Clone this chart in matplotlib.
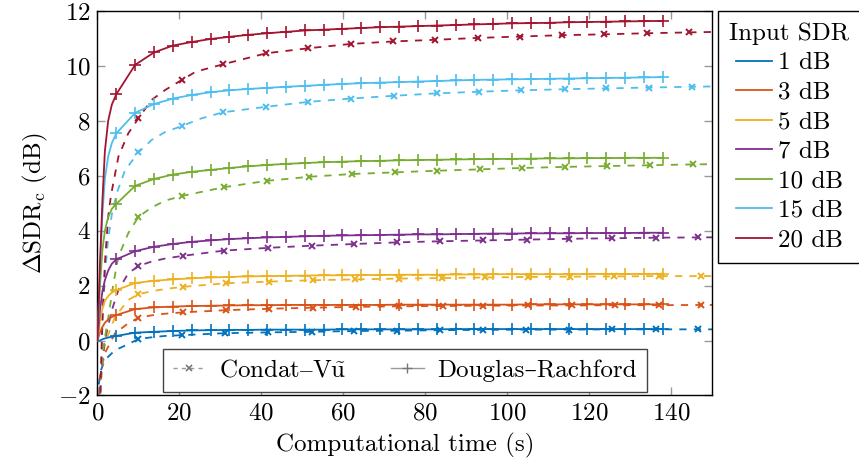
import matplotlib
matplotlib.use("Agg")
import matplotlib.pyplot as plt
from matplotlib.lines import Line2D

plt.rcParams['font.family'] = ['cmr10', 'DejaVu Serif']
plt.rcParams['mathtext.fontset'] = 'cm'
plt.rcParams['axes.formatter.use_mathtext'] = True
plt.rcParams['font.size'] = 18

labels = ['1 dB', '3 dB', '5 dB', '7 dB', '10 dB', '15 dB', '20 dB']
colors = ['#0072BD', '#D95319', '#EDB120', '#7E2F8E', '#77AC30', '#4DBEEE', '#A2142F']

# ---------------- Douglas–Rachford (solid, '+') ----------------
dr_t_early = [0.0, 0.6, 1.2, 1.8, 2.6, 3.5]
dr_t_marks = [4.6, 9.2, 13.8, 18.4, 23.0, 27.6, 32.2, 36.8, 41.4, 46.0, 50.6, 55.2, 59.8,
              64.4, 69.0, 73.6, 78.2, 82.8, 87.4, 92.0, 96.6, 101.2, 105.8, 110.4, 115.0,
              119.6, 124.2, 128.8, 133.4, 138.0]

dr_early = {
    '1 dB':  [0.0, 0.0, 0.05, 0.08, 0.11, 0.14],
    '3 dB':  [0.0, 0.3, 0.5, 0.65, 0.77, 0.86],
    '5 dB':  [0.0, 0.7, 1.15, 1.45, 1.62, 1.75],
    '7 dB':  [0.0, 1.1, 1.8, 2.2, 2.55, 2.8],
    '10 dB': [0.0, 2.0, 3.3, 4.0, 4.5, 4.8],
    '15 dB': [0.0, 2.5, 4.6, 5.9, 6.7, 7.2],
    '20 dB': [0.0, 2.8, 5.1, 6.9, 8.0, 8.6],
}
dr_marks = {
    '1 dB':  [0.17, 0.29, 0.32, 0.35, 0.37, 0.38, 0.39, 0.39, 0.40, 0.40, 0.40, 0.40, 0.41,
              0.41, 0.41, 0.41, 0.41, 0.41, 0.42, 0.42, 0.42, 0.42, 0.42, 0.42, 0.42,
              0.42, 0.42, 0.42, 0.42, 0.42],
    '3 dB':  [0.93, 1.15, 1.21, 1.24, 1.26, 1.27, 1.28, 1.29, 1.29, 1.30, 1.30, 1.30, 1.30,
              1.30, 1.30, 1.31, 1.31, 1.31, 1.31, 1.31, 1.31, 1.31, 1.32, 1.32, 1.32,
              1.32, 1.32, 1.32, 1.32, 1.32],
    '5 dB':  [1.84, 2.10, 2.18, 2.23, 2.27, 2.30, 2.32, 2.34, 2.35, 2.36, 2.37, 2.38, 2.38,
              2.39, 2.39, 2.40, 2.40, 2.40, 2.41, 2.41, 2.42, 2.42, 2.42, 2.42, 2.42,
              2.43, 2.43, 2.43, 2.43, 2.43],
    '7 dB':  [2.96, 3.26, 3.42, 3.52, 3.60, 3.65, 3.70, 3.73, 3.76, 3.78, 3.80, 3.82, 3.83,
              3.84, 3.85, 3.86, 3.87, 3.87, 3.88, 3.89, 3.90, 3.90, 3.91, 3.91, 3.91,
              3.92, 3.92, 3.92, 3.93, 3.93],
    '10 dB': [4.98, 5.64, 5.89, 6.05, 6.15, 6.22, 6.29, 6.35, 6.40, 6.44, 6.47, 6.50, 6.52,
              6.54, 6.55, 6.57, 6.58, 6.59, 6.60, 6.61, 6.62, 6.62, 6.63, 6.64, 6.64,
              6.65, 6.65, 6.66, 6.66, 6.66],
    '15 dB': [7.55, 8.30, 8.62, 8.82, 8.95, 9.05, 9.12, 9.17, 9.21, 9.25, 9.28, 9.32, 9.35,
              9.38, 9.40, 9.42, 9.44, 9.46, 9.48, 9.50, 9.51, 9.52, 9.53, 9.54, 9.55,
              9.56, 9.57, 9.58, 9.59, 9.60],
    '20 dB': [8.98, 10.05, 10.50, 10.75, 10.88, 10.99, 11.07, 11.14, 11.20, 11.25, 11.30,
              11.33, 11.36, 11.39, 11.42, 11.44, 11.46, 11.48, 11.50, 11.52, 11.54, 11.56,
              11.57, 11.58, 11.60, 11.61, 11.62, 11.63, 11.64, 11.65],
}

# ---------------- Condat–Vũ (dashed, 'x') ----------------
cv_t = {
    '1 dB':  [0.3, 0.8, 1.8, 4.3, 7.5, 10.0, 13.2, 16.5, 20.7, 31.1, 41.7, 52.3, 62.7, 73.2, 83.5, 94.1, 104.7, 115.2, 125.6, 136.3, 146.6, 157.0],
    '3 dB':  [0.3, 0.6, 1.8, 4.3, 7.5, 10.0, 13.2, 16.5, 20.9, 31.4, 41.9, 52.6, 63.1, 73.6, 84.3, 94.2, 105.2, 115.8, 126.2, 137.0, 147.4, 157.0],
    '5 dB':  [0.3, 0.6, 1.8, 4.3, 7.5, 10.0, 13.2, 16.5, 20.9, 31.4, 41.9, 52.5, 62.9, 73.5, 84.1, 94.7, 105.1, 115.4, 126.0, 137.0, 147.2, 157.0],
    '7 dB':  [0.3, 0.6, 1.8, 3.5, 5.1, 7.5, 10.0, 13.2, 16.5, 20.9, 30.9, 41.7, 52.3, 62.7, 73.2, 83.7, 94.2, 104.8, 115.2, 125.7, 136.3, 146.5, 157.0],
    '10 dB': [0.3, 0.6, 1.2, 1.8, 2.6, 3.9, 5.1, 7.5, 10.0, 13.2, 16.5, 20.6, 30.9, 41.3, 51.7, 62.1, 72.5, 82.9, 93.3, 103.6, 114.2, 124.4, 134.8, 145.3, 155.0],
    '15 dB': [0.3, 0.6, 1.2, 1.8, 2.6, 3.5, 4.7, 6.7, 10.0, 13.2, 16.5, 20.6, 25.4, 30.7, 41.2, 51.5, 61.9, 72.3, 82.9, 93.2, 103.4, 114.0, 124.1, 134.5, 145.1, 155.0],
    '20 dB': [0.3, 0.6, 1.2, 1.8, 2.6, 3.3, 5.1, 7.5, 10.0, 13.2, 16.5, 20.6, 24.0, 30.7, 41.2, 51.3, 61.8, 72.1, 82.4, 92.9, 103.2, 113.5, 123.7, 134.1, 144.3, 154.6],
}
cv_v = {
    '1 dB':  [-1.6, -1.1, -0.7, -0.35, -0.13, 0.06, 0.12, 0.17, 0.20, 0.27, 0.30, 0.32, 0.35, 0.36, 0.38, 0.39, 0.40, 0.40, 0.41, 0.41, 0.41, 0.41],
    '3 dB':  [-2.5, -1.3, -0.46, 0.27, 0.63, 0.83, 0.92, 0.98, 1.03, 1.11, 1.16, 1.20, 1.23, 1.25, 1.26, 1.27, 1.28, 1.28, 1.29, 1.29, 1.30, 1.30],
    '5 dB':  [-3.0, -1.8, -0.1, 0.87, 1.48, 1.69, 1.80, 1.88, 1.96, 2.09, 2.15, 2.20, 2.23, 2.26, 2.28, 2.30, 2.32, 2.33, 2.34, 2.35, 2.35, 2.36],
    '7 dB':  [-3.0, -1.56, 0.02, 1.11, 1.84, 2.45, 2.72, 2.88, 2.99, 3.09, 3.28, 3.38, 3.46, 3.52, 3.58, 3.62, 3.65, 3.68, 3.71, 3.73, 3.75, 3.76, 3.77],
    '10 dB': [-3.5, -2.2, -0.6, 0.1, 0.8, 2.09, 3.06, 3.91, 4.51, 4.85, 5.10, 5.27, 5.59, 5.82, 5.97, 6.07, 6.13, 6.19, 6.24, 6.29, 6.33, 6.36, 6.39, 6.42, 6.44],
    '15 dB': [-4.0, -2.5, 0.5, 2.4, 3.7, 4.6, 5.37, 6.2, 6.86, 7.31, 7.60, 7.82, 8.10, 8.32, 8.52, 8.70, 8.82, 8.92, 9.01, 9.07, 9.12, 9.16, 9.19, 9.22, 9.25, 9.27],
    '20 dB': [-4.0, -2.5, 0.8, 2.8, 4.5, 5.3, 6.7, 7.55, 8.10, 8.77, 9.13, 9.50, 9.80, 10.07, 10.47, 10.65, 10.81, 10.90, 10.96, 11.03, 11.08, 11.13, 11.16, 11.20, 11.23, 11.26],
}
cv_first_mark = {'1 dB': 5, '3 dB': 5, '5 dB': 5, '7 dB': 6, '10 dB': 8, '15 dB': 8, '20 dB': 8}
cv_skip = {'1 dB': [6, 7], '3 dB': [6, 7], '5 dB': [6, 7], '7 dB': [7, 8], '10 dB': [9, 10],
           '15 dB': [9, 10, 12], '20 dB': [9, 10, 12]}

x_ticks = [0, 20, 40, 60, 80, 100, 120, 140]
y_ticks = [-2, 0, 2, 4, 6, 8, 10, 12]

fig = plt.figure(figsize=(8.59, 4.66), dpi=100)
ax = fig.add_axes([0.1135, 0.1513, 0.7154, 0.8245])

lw = 1.3
for lab, col in zip(labels, colors):
    t = cv_t[lab]
    v = cv_v[lab]
    ax.plot(t, v, color=col, lw=lw, dashes=(4, 4), zorder=2)
    idx = [i for i in range(cv_first_mark[lab], len(t)) if i not in cv_skip[lab]]
    ax.plot([t[i] for i in idx], [v[i] for i in idx], ls='none', marker='x',
            ms=5, mew=1.4, color=col, zorder=3)
for lab, col in zip(labels, colors):
    t = dr_t_early + dr_t_marks
    v = dr_early[lab] + dr_marks[lab]
    ax.plot(t, v, color=col, lw=lw, zorder=4)
    ax.plot(dr_t_marks, dr_marks[lab], ls='none', marker='+', ms=8, mew=1.2,
            color=col, zorder=5)

ax.set_xlim(0, 150)
ax.set_ylim(-2, 12)
ax.set_xticks(x_ticks)
ax.set_yticks(y_ticks)
ax.tick_params(direction='in', length=6, width=1.0, color='#999999',
               top=True, right=True, labelsize=18, pad=5)
for s in ax.spines.values():
    s.set_linewidth(1.0)
ax.set_xlabel('Computational time (s)', fontsize=18, labelpad=6)
ax.set_ylabel(r'$\Delta\mathrm{SDR}_\mathrm{c}$ (dB)', fontsize=18, labelpad=6)

handles1 = [Line2D([], [], color=c, lw=1.3) for c in colors]
leg1 = fig.legend(handles1, labels, title='Input SDR', loc='upper left',
                  bbox_to_anchor=(718 / 859, 1 - 11 / 466), borderaxespad=0,
                  fontsize=18, title_fontsize=18, frameon=True, fancybox=False,
                  edgecolor='black', framealpha=1, handlelength=1.45,
                  handletextpad=0.25, labelspacing=0.28, borderpad=0.45)
leg1.get_frame().set_linewidth(1.0)

grey = '#999999'
handles2 = [Line2D([], [], color=grey, lw=1.0, dashes=(3, 3), marker='x', ms=5, mew=1.2,
                   mec='#777777'),
            Line2D([], [], color=grey, lw=1.0, marker='+', ms=7, mew=1.0, mec='#777777')]
leg2 = ax.legend(handles2, ['Condat$\\mathrm{–}$V$\\tilde{\\mathrm{u}}$', 'Douglas–Rachford'],
                 loc='lower center', bbox_to_anchor=(0.5, 0.01), borderaxespad=0,
                 ncol=2, fontsize=18, frameon=True, fancybox=False, edgecolor='#444444',
                 framealpha=1, handlelength=1.3, handletextpad=0.55, columnspacing=1.8,
                 borderpad=0.4)
leg2.get_frame().set_linewidth(1.0)
leg2.set_zorder(10)

fig.savefig('out.png', dpi=100)
